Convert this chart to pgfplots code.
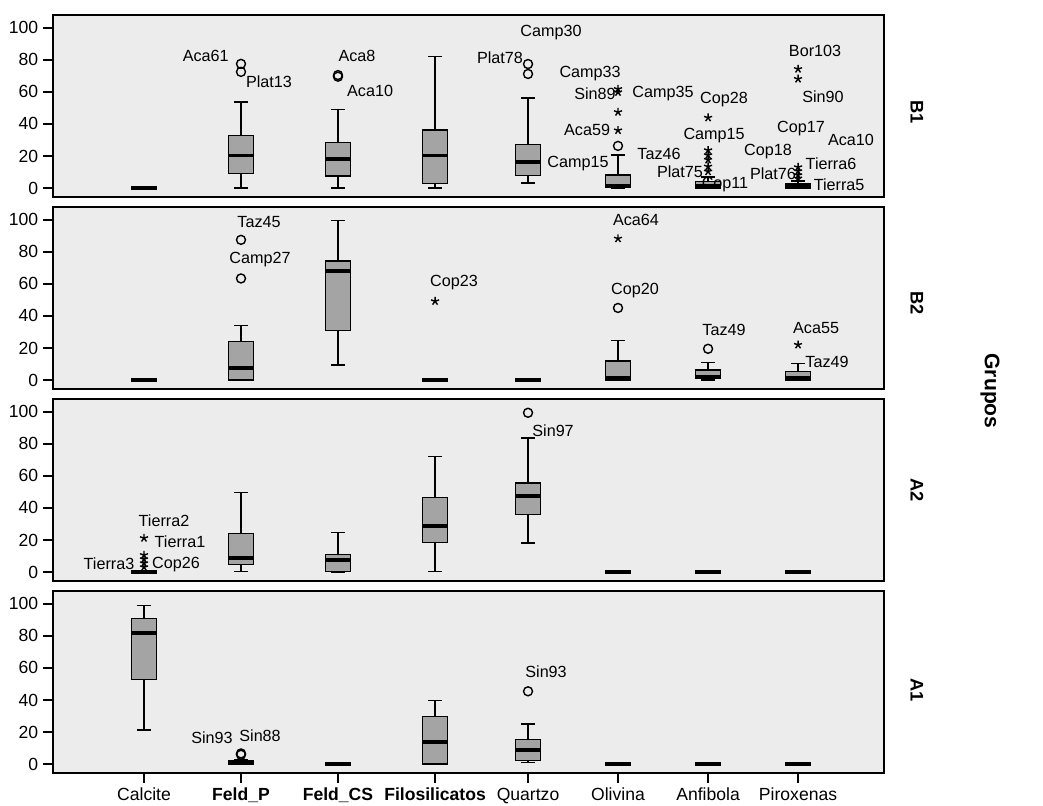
\documentclass[border=0pt]{standalone}
\usepackage{fontspec}
\setmainfont{Liberation Sans}
\usepackage{pgfplots}
\pgfplotsset{compat=1.18}
\usepgfplotslibrary{statistics}
\definecolor{panelbg}{HTML}{ECECEC}
\definecolor{boxgray}{HTML}{A4A4A4}

\newcommand{\bx}[6]{\addplot[boxplot prepared={draw position=#1, lower whisker=#2, lower quartile=#3, median=#4, upper quartile=#5, upper whisker=#6}] coordinates {};}

\pgfplotsset{
 panel/.style={
  scale only axis, width=207.75mm, height=45.5mm,
  xmin=0.026, xmax=8.92, ymin=-5.6, ymax=108,
  axis background/.style={fill=panelbg},
  axis line style={line width=1.1pt},
  ytick={0,20,...,100},
  tick style={line width=1pt, black},
  tick align=outside, major tick length=7pt,
  y tick label style={font=\fontsize{12.5}{14}\selectfont},
  xtick=\empty,
  tick pos=left,
  boxplot/draw direction=y,
  boxplot/box extend=0.27,
  boxplot/whisker extend=0.15,
  boxplot/every box/.style={draw=black, fill=boxgray, line width=0.8pt},
  boxplot/every whisker/.style={black, line width=1pt},
  boxplot/every median/.style={black, line width=2.8pt},
  /pgf/number format/assume math mode=true,
  clip=false,
 },
 circ/.style={only marks, mark=o, mark size=3.2pt, line width=1pt, black},
 stars/.style={only marks, mark=star, mark size=3pt, line width=1pt, black},
}
\tikzset{lbl/.style={font=\fontsize{11.5}{13}\selectfont, inner sep=0pt, anchor=center}}

\begin{document}
\begin{tikzpicture}
\path[use as bounding box] (0,0) rectangle (260.75mm,-201.25mm);

% ---------------- B1 ----------------
\begin{axis}[panel, at={(13.25mm,-3.75mm)}, anchor=north west]
\bx{1}{0}{0}{0}{0}{0}
\bx{2.038}{0}{8.9}{20.3}{32.7}{53.8}
\bx{3.076}{0}{7.5}{18.2}{28.6}{48.9}
\bx{4.115}{0}{2.7}{20.3}{36.2}{82}
\bx{5.110}{3.1}{7.9}{16.1}{27.1}{56.1}
\bx{6.073}{0}{1}{1.5}{8.1}{20.5}
\bx{7.037}{0}{0}{1.5}{4}{7}
\bx{8}{0}{0}{1}{3}{4.5}
\addplot[circ] coordinates {(2.038,77.5) (2.038,72.5) (3.076,70.5) (3.076,69.5) (5.110,77.4) (5.110,71.2) (6.073,26.3)};
\addplot[stars] coordinates {(6.073,36) (6.073,47.4) (6.073,59.8) (6.073,61.8)
 (7.037,43.9) (7.037,23.6) (7.037,20.5) (7.037,17.6) (7.037,13.4) (7.037,10.3)
 (8,74.3) (8,68.1) (8,13) (8,10.5) (8,8) (8,6)};
\node[lbl] at (axis cs:1.66,82.6) {Aca61};
\node[lbl] at (axis cs:2.338,66.5) {Plat13};
\node[lbl] at (axis cs:3.28,82.6) {Aca8};
\node[lbl] at (axis cs:3.42,60.9) {Aca10};
\node[lbl] at (axis cs:5.356,97) {Camp30};
\node[lbl] at (axis cs:4.81,81.6) {Plat78};
\node[lbl] at (axis cs:5.774,71.2) {Camp33};
\node[lbl] at (axis cs:5.827,58.8) {Sin89};
\node[lbl] at (axis cs:6.555,58.8) {Camp35};
\node[lbl] at (axis cs:5.742,36.5) {Aca59};
\node[lbl] at (axis cs:5.645,15.3) {Camp15};
\node[lbl] at (axis cs:6.512,21.5) {Taz46};
\node[lbl] at (axis cs:7.208,55) {Cop28};
\node[lbl] at (axis cs:7.101,32.9) {Camp15};
\node[lbl] at (axis cs:6.737,10.1) {Plat75};
\node[lbl] at (axis cs:7.218,1.9) {Cop11};
\node[lbl] at (axis cs:8.182,85.7) {Bor103};
\node[lbl] at (axis cs:8.267,56.7) {Sin90};
\node[lbl] at (axis cs:8.032,37) {Cop17};
\node[lbl] at (axis cs:8.567,29.8) {Aca10};
\node[lbl] at (axis cs:7.679,22.5) {Cop18};
\node[lbl] at (axis cs:8.353,15.3) {Tierra6};
\node[lbl] at (axis cs:7.732,9.1) {Plat76};
\node[lbl] at (axis cs:8.439,1.9) {Tierra5};
\end{axis}

% ---------------- B2 ----------------
\begin{axis}[panel, at={(13.25mm,-51.75mm)}, anchor=north west]
\bx{1}{0}{0}{0}{0}{0}
\bx{2.038}{0}{0}{7.3}{24}{33.9}
\bx{3.076}{9.4}{30.8}{68}{74.3}{99.4}
\bx{4.115}{0}{0}{0}{0}{0}
\bx{5.110}{0}{0}{0}{0}{0}
\bx{6.073}{0}{0}{1}{11.9}{24.5}
\bx{7.037}{0}{1}{2}{6.3}{10.9}
\bx{8}{0}{0}{1}{5.2}{10.5}
\addplot[circ] coordinates {(2.038,87.5) (2.038,63.4) (6.073,45) (7.037,19.5)};
\addplot[stars] coordinates {(4.115,49.2) (6.073,88.3) (8,22)};
\node[lbl] at (axis cs:2.231,98.4) {Taz45};
\node[lbl] at (axis cs:2.242,75.3) {Camp27};
\node[lbl] at (axis cs:4.318,60.7) {Cop23};
\node[lbl] at (axis cs:6.266,100) {Aca64};
\node[lbl] at (axis cs:6.255,56) {Cop20};
\node[lbl] at (axis cs:7.208,31.4) {Taz49};
\node[lbl] at (axis cs:8.193,32.4) {Aca55};
\node[lbl] at (axis cs:8.31,11.5) {Taz49};
\end{axis}

% ---------------- A2 ----------------
\begin{axis}[panel, at={(13.25mm,-99.75mm)}, anchor=north west]
\bx{1}{0}{0}{0}{0}{0}
\bx{2.038}{0.5}{4.9}{8.5}{23.9}{49.7}
\bx{3.076}{0}{0.6}{7.4}{10.8}{24.5}
\bx{4.115}{0.5}{18.2}{28.5}{46.5}{72.1}
\bx{5.110}{18}{36.1}{47.6}{55.6}{83.7}
\bx{6.073}{0}{0}{0}{0}{0}
\bx{7.037}{0}{0}{0}{0}{0}
\bx{8}{0}{0}{0}{0}{0}
\addplot[circ] coordinates {(5.110,99.4)};
\addplot[stars] coordinates {(1,21.2) (1,10.6) (1,8) (1,5.5) (1,3)};
\node[lbl] at (axis cs:1.214,32.3) {Tierra2};
\node[lbl] at (axis cs:1.385,19) {Tierra1};
\node[lbl] at (axis cs:0.625,4.9) {Tierra3};
\node[lbl] at (axis cs:1.343,4.9) {Cop26};
\node[lbl] at (axis cs:5.378,88.4) {Sin97};
\end{axis}

% ---------------- A1 ----------------
\begin{axis}[panel, at={(13.25mm,-147.75mm)}, anchor=north west,
  xtick={1,2.038,3.076,4.115,5.110,6.073,7.037,8},
  xticklabels={Calcite,\textbf{Feld\_P},\textbf{Feld\_CS},\textbf{Filosilicatos},Quartzo,Olivina,Anfibola,Piroxenas},
  x tick label style={font=\fontsize{12.5}{14}\selectfont}]
\bx{1}{21.3}{52.7}{81.9}{90.6}{99}
\bx{2.038}{0}{0}{1}{2}{3}
\bx{3.076}{0}{0}{0}{0}{0}
\bx{4.115}{0}{0}{13.5}{29.6}{39.6}
\bx{5.110}{1}{2.1}{9}{15.2}{25}
\bx{6.073}{0}{0}{0}{0}{0}
\bx{7.037}{0}{0}{0}{0}{0}
\bx{8}{0}{0}{0}{0}{0}
\addplot[circ] coordinates {(2.038,6.6) (2.038,5.8) (5.110,45.4)};
\node[lbl] at (axis cs:1.728,16.6) {Sin93};
\node[lbl] at (axis cs:2.242,17.7) {Sin88};
\node[lbl] at (axis cs:5.303,57.7) {Sin93};
\end{axis}

\node[rotate=-90, font=\bfseries\fontsize{13}{15}\selectfont] at (229.25mm,-28mm) {B1};
\node[rotate=-90, font=\bfseries\fontsize{13}{15}\selectfont] at (229.25mm,-75.75mm) {B2};
\node[rotate=-90, font=\bfseries\fontsize{13}{15}\selectfont] at (229.25mm,-122.5mm) {A2};
\node[rotate=-90, font=\bfseries\fontsize{13}{15}\selectfont] at (229.25mm,-172.5mm) {A1};
\node[rotate=-90, font=\bfseries\fontsize{15}{17}\selectfont] at (247.5mm,-97.75mm) {Grupos};
\end{tikzpicture}
\end{document}
